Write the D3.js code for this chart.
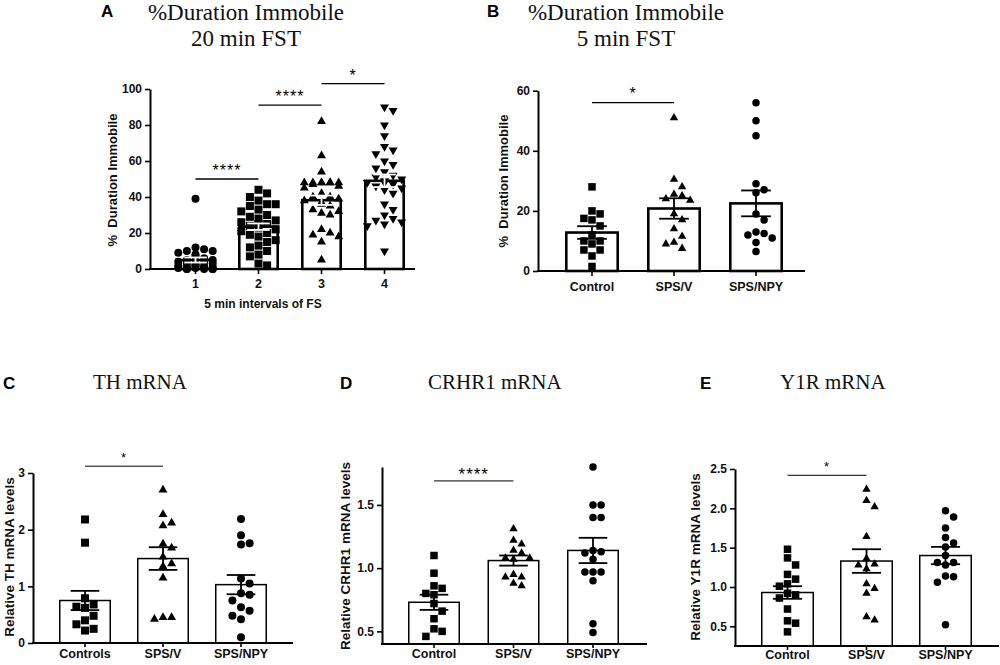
<!DOCTYPE html>
<html><head><meta charset="utf-8">
<script src="https://cdn.jsdelivr.net/npm/d3@7"></script>
<style>body{margin:0;background:#fff} svg{display:block}</style>
</head><body>
<svg id="c" width="1000" height="665"></svg>
<script>
// ---------- Panel A : %Duration Immobile, 20 min FST ----------
const aCats = ["1","2","3","4"];
const aInt1 = [39,12,11,10,10,9,8,7,6,5,5,4,4,3,3,3,2,2,2,1.5,1,1,1,0.5,0.5,0,0,0,0,0];
const aInt2 = [44,42,40,38,36,36,35,33,32,30,29,28,27,26,25,25,24,23,22,21,20,19,18,16,15,13,12,10,8,7,3,2];
const aInt3 = [82,63,54,48,48,48,48,48,48,48,47,46,45,42,40,40,39,38,37,36,35,33,32,31,30,22,20,19,18,15,5];
const aInt4 = [90,88,80,74,68,66,64,60,58,56,54,52,51,50,49,48,48,47,46,45,44,42,36,33,30,28,27,26,25,24,10];
const aMeans = [5.0,23.5,38.2,49.0];
const aSems = [1.4,1.8,2.6,3.5];
const aTicks = [0,20,40,60,80,100];
const aSig = [[0,1,50,"****"],[1,2,91,"****"],[2,3,103,"*"]];

// ---------- Panel B : %Duration Immobile, 5 min FST ----------
const bCats = ["Control","SPS/V","SPS/NPY"];
const bControl = [28,20,19,17.5,17,15,12,10,10,9,7,7,5,1.5];
const bSpsV = [51,30.5,28,25.5,25,24,23.5,19,17,14,11.5,9.5,9,7.5];
const bSpsNpy = [56,50,45,29,26,27,19,17,13,12.5,12,11,9.5,6.5];
const bMeans = [12.8,20.8,22.5];
const bSems = [2.1,3.4,4.3];
const bTicks = [0,20,40,60];
const bSig = [[0,1,56,"*"]];

// ---------- Panel C : TH mRNA ----------
const cCats = ["Controls","SPS/V","SPS/NPY"];
const cControls = [2.18,1.77,0.79,0.68,0.64,0.62,0.48,0.40,0.33,0.25,0.22];
const cSpsV = [2.7,2.27,2.12,2.07,1.75,1.68,1.52,1.4,1.35,1.15,0.45,0.45,0.42];
const cSpsNpy = [2.19,1.9,1.76,1.74,1.14,1.05,0.88,0.85,0.75,0.63,0.57,0.48,0.42,0.1];
const cMeans = [0.75,1.49,1.03];
const cSems = [0.17,0.2,0.17];
const cTicks = [0,1,2,3];
const cSig = [[0,1,3.12,"*"]];

// ---------- Panel D : CRHR1 mRNA ----------
const dCats = ["Control","SPS/V","SPS/NPY"];
const dControl = [1.1,0.96,0.86,0.84,0.8,0.79,0.72,0.66,0.6,0.52,0.5,0.46];
const dSpsV = [1.31,1.22,1.19,1.14,1.12,1.08,1.08,1.07,0.95,0.93,0.93,0.88,0.86];
const dSpsNpy = [1.8,1.5,1.5,1.4,1.4,1.14,1.13,1.12,1.07,0.97,0.97,0.97,0.9,0.56,0.49];
const dMeans = [0.73,1.06,1.14];
const dSems = [0.06,0.04,0.1];
const dTicks = [0.5,1.0,1.5];
const dSig = [[0,1,1.69,"****"]];

// ---------- Panel E : Y1R mRNA ----------
const eCats = ["Control","SPS/V","SPS/NPY"];
const eControl = [1.48,1.37,1.28,1.16,1.1,1.04,1.01,0.92,0.9,0.86,0.72,0.57,0.54,0.43];
const eSpsV = [2.24,2.1,2.02,1.64,1.36,1.29,1.28,1.23,1.04,0.98,0.92,0.62,0.58];
const eSpsNpy = [1.97,1.89,1.75,1.63,1.56,1.51,1.4,1.31,1.31,1.28,1.14,1.13,1.06,0.52];
const eMeans = [0.93,1.33,1.40];
const eSems = [0.08,0.15,0.11];
const eTicks = [0.5,1.0,1.5,2.0,2.5];
const eSig = [[0,1,2.42,"*"]];

const SANS = "'Liberation Sans', Arial, sans-serif";
const SERIF = "'Liberation Serif', 'Times New Roman', serif";
const svg = d3.select("#c");

function symbolPath(shape, s) {
  if (shape === "square") return d3.symbol(d3.symbolSquare, s * s)();
  if (shape === "circle") return d3.symbol(d3.symbolCircle, Math.PI * s * s / 4)();
  return d3.symbol(d3.symbolTriangle, Math.sqrt(3) / 4 * s * s * 1.25)();
}

// GraphPad-like scatter layout: spread points sideways, limited to maxOff
function swarm(vals, y, d, maxOff) {
  const idx = vals.map((v, i) => i).sort((a, b) => vals[b] - vals[a]);
  const placed = [], xs = new Array(vals.length);
  for (const i of idx) {
    const py = y(vals[i]);
    let best = 0, bestC = Infinity;
    for (let n = 0; n < 400; n++) {
      const k = Math.ceil(n / 2) * (d / 2);
      if (k > maxOff) break;
      const off = n === 0 ? 0 : (n % 2 ? k : -k);
      const c = placed.filter(p => Math.abs(p.x - off) < d - 0.01 && Math.abs(p.y - py) < d - 0.01).length;
      if (c < bestC) { bestC = c; best = off; }
      if (c === 0) break;
    }
    placed.push({ x: best, y: py });
    xs[i] = best;
  }
  return xs;
}

function panel(p) {
  const g = svg.append("g");
  const n = p.cats.length;
  const y = d3.scaleLinear().domain(p.domain).range([p.yBot, p.yTop]);
  const x = d3.scaleBand().domain(p.cats)
    .range([p.barStart, p.barStart + p.step * (n - 1) + p.barW])
    .paddingInner(1 - p.barW / p.step).paddingOuter(0);
  const cx = i => x(p.cats[i]) + x.bandwidth() / 2;

  g.selectAll("rect.bar").data(p.means).join("rect").attr("class", "bar")
    .attr("x", (d, i) => x(p.cats[i]) + p.barStroke / 2)
    .attr("y", d => y(d))
    .attr("width", x.bandwidth() - p.barStroke)
    .attr("height", d => p.yBot - y(d))
    .attr("fill", "#fff").attr("stroke", "#000").attr("stroke-width", p.barStroke);

  p.series.forEach((vals, i) => {
    const xs = swarm(vals, y, p.ms + 0.6, x.bandwidth() * p.spread);
    const rot = p.shapes[i] === "tridown" ? " rotate(180)" : "";
    g.append("g").selectAll("path").data(vals).join("path")
      .attr("d", symbolPath(p.shapes[i], p.ms))
      .attr("transform", (d, j) => `translate(${cx(i) + xs[j]},${y(d)})${rot}`)
      .attr("fill", "#000");
  });

  const eb = g.append("g").attr("stroke", p.errColor).attr("stroke-width", p.errW).attr("fill", "none");
  p.means.forEach((m, i) => {
    const c = cx(i), hw = x.bandwidth() * p.capFrac / 2;
    eb.append("line").attr("x1", c).attr("x2", c).attr("y1", y(m - p.sems[i])).attr("y2", y(m + p.sems[i]));
    eb.append("line").attr("x1", c - hw).attr("x2", c + hw).attr("y1", y(m + p.sems[i])).attr("y2", y(m + p.sems[i]));
    eb.append("line").attr("x1", c - hw).attr("x2", c + hw).attr("y1", y(m - p.sems[i])).attr("y2", y(m - p.sems[i]));
  });

  p.sig.forEach(([a, b, v, lab]) => {
    g.append("line").attr("x1", cx(a)).attr("x2", cx(b)).attr("y1", y(v)).attr("y2", y(v))
      .attr("stroke", "#000").attr("stroke-width", p.sigW);
    g.append("text").attr("x", (cx(a) + cx(b)) / 2).attr("y", y(v) - p.starOff)
      .attr("text-anchor", "middle").attr("font-family", SANS).attr("font-size", p.starSize)
      .attr("letter-spacing", 1).text(lab);
  });

  const ya = g.append("g").attr("transform", `translate(${p.axisX},0)`)
    .call(d3.axisLeft(y).tickValues(p.ticks).tickFormat(d3.format(p.fmt)).tickSize(5).tickPadding(3).tickSizeOuter(0));
  ya.select(".domain").attr("stroke-width", p.axisW);
  ya.selectAll(".tick line").attr("stroke-width", p.axisW * 0.8);
  ya.selectAll("text").attr("font-family", SANS).attr("font-weight", "bold").attr("font-size", p.tickSize).attr("fill", "#111");

  g.append("line").attr("x1", p.axisX - p.axisW / 2).attr("x2", p.axisEnd).attr("y1", p.yBot).attr("y2", p.yBot)
    .attr("stroke", "#000").attr("stroke-width", p.axisW);
  const xa = g.append("g").attr("transform", `translate(0,${p.yBot})`)
    .call(d3.axisBottom(x).tickSize(p.xTick).tickPadding(p.xPad).tickSizeOuter(0));
  xa.select(".domain").remove();
  xa.selectAll(".tick line").attr("stroke-width", p.axisW * 0.8);
  xa.selectAll("text").attr("font-family", SANS).attr("font-weight", "bold").attr("font-size", p.xTickSize).attr("fill", "#111");

  g.append("text").attr("transform", `translate(${p.ylX},${p.ylY}) rotate(-90)`)
    .attr("text-anchor", "middle").attr("dominant-baseline", "central")
    .attr("font-family", SANS).attr("font-weight", "bold").attr("font-size", p.ylSize).attr("fill", "#111")
    .attr("xml:space", "preserve").text(p.ylabel);

  if (p.xTitle) {
    g.append("text").attr("x", p.xTitleX).attr("y", p.xTitleY).attr("text-anchor", "middle")
      .attr("font-family", SANS).attr("font-weight", "bold").attr("font-size", p.xTitleSize).attr("fill", "#111")
      .text(p.xTitle);
  }

  g.append("text").attr("x", p.letterX).attr("y", p.letterY).attr("font-family", SANS)
    .attr("font-weight", "bold").attr("font-size", p.letterSize).text(p.letter);
  p.title.forEach((t, k) => {
    g.append("text").attr("x", p.titleX).attr("y", p.titleY[k]).attr("text-anchor", p.titleAnchor)
      .attr("font-family", SERIF).attr("font-size", p.titleSize).attr("fill", "#111").text(t);
  });
}

const common = { errColor: "#000", errW: 1.8, capFrac: 0.55, sigW: 1.3, axisW: 2, tickSize: 12, xTickSize: 12.5,
  ylSize: 13, letterSize: 17, starSize: 16, starOff: 4, titleAnchor: "middle", titleSize: 23, spread: 0.55, xTick: 5 };

panel(Object.assign({}, common, {
  letter: "A", letterX: 101, letterY: 17, title: ["%Duration Immobile", "20 min FST"], titleX: 246, titleY: [20, 46],
  cats: aCats, series: [aInt1, aInt2, aInt3, aInt4], means: aMeans, sems: aSems, ticks: aTicks, fmt: "d",
  shapes: ["circle", "square", "tri", "tridown"], ms: 8, sig: aSig, spread: 0.5,
  domain: [0, 100], yTop: 89, yBot: 269, axisX: 150, axisEnd: 415,
  barStart: 175, step: 63, barW: 41, barStroke: 2.6, errColor: "#fff", xPad: 5, starOff: 3,
  ylabel: "%  Duration Immobile", ylX: 112, ylY: 180,
  xTitle: "5 min intervals of FS", xTitleX: 263, xTitleY: 308, xTitleSize: 12
}));

panel(Object.assign({}, common, {
  letter: "B", letterX: 487, letterY: 17, title: ["%Duration Immobile", "5 min FST"], titleX: 626, titleY: [20, 46],
  cats: bCats, series: [bControl, bSpsV, bSpsNpy], means: bMeans, sems: bSems, ticks: bTicks, fmt: "d",
  shapes: ["square", "tri", "circle"], ms: 7.5, sig: bSig,
  domain: [0, 60], yTop: 90.7, yBot: 271, axisX: 538, axisEnd: 805,
  barStart: 565, step: 82, barW: 54, barStroke: 2.6, xPad: 6,
  ylabel: "%  Duration Immobile", ylX: 503, ylY: 181
}));

panel(Object.assign({}, common, {
  letter: "C", letterX: 3, letterY: 389, title: ["TH mRNA"], titleX: 93, titleY: [389], titleAnchor: "start", titleSize: 21,
  cats: cCats, series: [cControls, cSpsV, cSpsNpy], means: cMeans, sems: cSems, ticks: cTicks, fmt: "d",
  shapes: ["square", "tri", "circle"], ms: 8, sig: cSig, sigW: 1,
  domain: [0, 3], yTop: 473, yBot: 643, axisX: 33, axisEnd: 293,
  barStart: 59, step: 78, barW: 52, barStroke: 1.5, xPad: 2, xTick: 4, xTickSize: 12.5, starSize: 13,
  ylabel: "Relative TH mRNA levels", ylX: 9, ylY: 557, ylSize: 13.5
}));

panel(Object.assign({}, common, {
  letter: "D", letterX: 340, letterY: 389, title: ["CRHR1 mRNA"], titleX: 428, titleY: [389], titleAnchor: "start", titleSize: 21,
  cats: dCats, series: [dControl, dSpsV, dSpsNpy], means: dMeans, sems: dSems, ticks: dTicks, fmt: ".1f",
  shapes: ["square", "tri", "circle"], ms: 7.5, sig: dSig, sigW: 1,
  domain: [0.4, 1.8], yTop: 467, yBot: 644, axisX: 382, axisEnd: 647,
  barStart: 408, step: 79.5, barW: 52, barStroke: 1.5, xPad: 1, xTick: 4, xTickSize: 12.5, starSize: 17, starOff: 1,
  ylabel: "Relative CRHR1 mRNA levels", ylX: 345, ylY: 556, ylSize: 13.5
}));

panel(Object.assign({}, common, {
  letter: "E", letterX: 700, letterY: 389, title: ["Y1R mRNA"], titleX: 780, titleY: [389], titleAnchor: "start", titleSize: 21,
  cats: eCats, series: [eControl, eSpsV, eSpsNpy], means: eMeans, sems: eSems, ticks: eTicks, fmt: ".1f",
  shapes: ["square", "tri", "circle"], ms: 7.5, sig: eSig, sigW: 1,
  domain: [0.25, 2.5], yTop: 469, yBot: 646, axisX: 735, axisEnd: 999,
  barStart: 761, step: 79, barW: 53, barStroke: 1.5, xPad: 0, xTick: 4, xTickSize: 12.5, starSize: 13,
  ylabel: "Relative Y1R mRNA levels", ylX: 695, ylY: 557, ylSize: 13.5
}));
</script>
</body></html>
